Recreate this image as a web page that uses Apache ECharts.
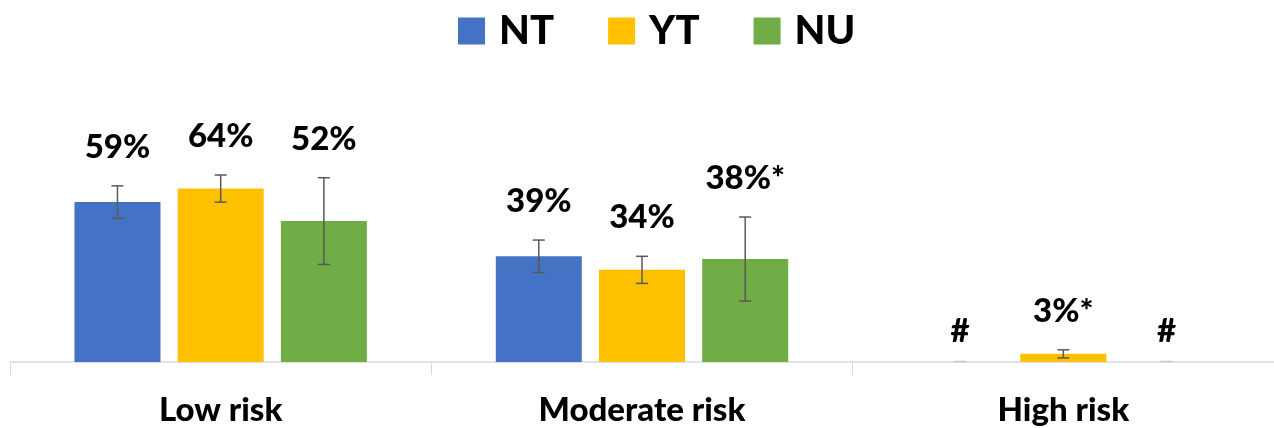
<!DOCTYPE html>
<html><head><meta charset="utf-8">
<script src="https://cdn.jsdelivr.net/npm/echarts@6/dist/echarts.min.js"></script>
<style>html,body{margin:0;padding:0;background:#fff}#c{width:1274px;height:428px}</style>
</head><body><div id="c"></div>
<script>
const categories = ['Low risk', 'Moderate risk', 'High risk'];
const seriesNames = ['NT', 'YT', 'NU'];
const ntValues = [59, 39, 0];
const ytValues = [64, 34, 3];
const nuValues = [52, 38, 0];
const ntErrors = [6, 6, 0];
const ytErrors = [5, 5, 1.5];
const nuErrors = [16, 15.5, 0];
const ntLabels = ['59%', '39%', '#'];
const ytLabels = ['64%', '34%', '3%*'];
const nuLabels = ['52%', '38%*', '#'];

const colors = ['#4472C4', '#FFC000', '#70AD47'];
const FONT = 'Lato, "Open Sans", sans-serif';
const BAR_W = 86;
const offsets = [-103.2, 0, 103.2];

const values = [ntValues, ytValues, nuValues];
const errors = [ntErrors, ytErrors, nuErrors];
const labels = [ntLabels, ytLabels, nuLabels];

const chart = echarts.init(document.getElementById('c'), null, {renderer: 'canvas'});

function errSeries(si) {
  const data = categories.map((c, i) => [i, values[si][i], errors[si][i]]);
  return {
    type: 'custom',
    name: seriesNames[si] + '_err',
    z: 5,
    silent: true,
    data: data,
    renderItem: function (params, api) {
      const i = api.value(0), v = api.value(1), e = api.value(2);
      const lbl = labels[si][params.dataIndex];
      const top = api.coord([i, v + e]);
      const bot = api.coord([i, v - e]);
      const x = top[0] + offsets[si];
      const cw = 6;
      const stroke = {stroke: '#595959', lineWidth: 1.5};
      const children = [];
      if (e > 0) {
        children.push({type: 'line', shape: {x1: x, y1: top[1], x2: x, y2: bot[1]}, style: stroke});
        children.push({type: 'line', shape: {x1: x - cw, y1: top[1], x2: x + cw, y2: top[1]}, style: stroke});
        children.push({type: 'line', shape: {x1: x - cw, y1: bot[1], x2: x + cw, y2: bot[1]}, style: stroke});
      } else {
        children.push({type: 'line', shape: {x1: x - cw, y1: top[1] - 0.5, x2: x + cw, y2: top[1] - 0.5}, style: {stroke: '#c8c8c8', lineWidth: 1.5}});
      }
      children.push({
        type: 'text',
        style: {
          text: lbl, x: x, y: top[1] - (e > 0 ? 22 : 14),
          align: 'center', verticalAlign: 'bottom',
          fill: '#000', font: '900 33px ' + FONT
        }
      });
      return {type: 'group', children: children};
    }
  };
}

const barSeries = seriesNames.map((n, si) => ({
  type: 'bar',
  name: n,
  data: values[si],
  barWidth: BAR_W,
  barGap: '20%',
  itemStyle: {color: colors[si]},
  emphasis: {disabled: true}
}));

chart.setOption({
  animation: false,
  color: colors,
  legend: {
    data: seriesNames,
    left: 453,
    top: 6,
    itemWidth: 27,
    itemHeight: 27,
    itemGap: 54,
    icon: 'rect',
    textStyle: {fontFamily: FONT, fontWeight: 900, fontSize: 40, color: '#000', padding: [0, 0, 0, 9]}
  },
  grid: {left: 10, right: 0, top: 91, bottom: 66, containLabel: false},
  xAxis: {
    type: 'category',
    data: categories,
    axisLine: {lineStyle: {color: '#d9d9d9', width: 1.5}},
    axisTick: {show: true, length: 13, lineStyle: {color: '#d9d9d9'}},
    axisLabel: {fontFamily: FONT, fontWeight: 900, fontSize: 33, color: '#000', margin: 32}
  },
  yAxis: {type: 'value', min: 0, max: 100, show: false, splitLine: {show: false}},
  series: barSeries.concat([errSeries(0), errSeries(1), errSeries(2)])
});
</script></body></html>
